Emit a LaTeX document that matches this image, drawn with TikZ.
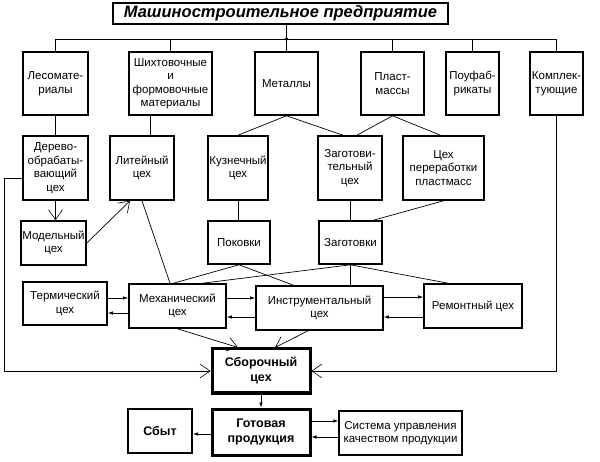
\documentclass[tikz,border=0pt]{standalone}
\usepackage{fontspec}
\setmainfont{Liberation Sans}
\usetikzlibrary{arrows.meta}
\begin{document}
\begin{tikzpicture}[x=1pt,y=-1pt,
  box/.style={draw, line width=1.6pt, align=center, inner sep=1pt,
    font=\fontsize{11.5}{13.5}\selectfont},
  heavybox/.style={box, line width=3pt, font=\bfseries\fontsize{12.5}{15}\selectfont},
  thinbox/.style={box, line width=1.2pt},
  conn/.style={line width=0.7pt},
  openarr/.style={conn, -{Straight Barb[length=10pt,width=14pt,line width=0.6pt]}},
  smallarr/.style={conn, -{Latex[length=5pt,width=3.5pt]}}]
\useasboundingbox (0,0) rectangle (600,462);
\fill[white] (0,0) rectangle (600,462);

% title
\node[box, line width=1.8pt, minimum width=335pt, minimum height=21pt,
  font=\bfseries\itshape\fontsize{16.5}{18}\selectfont] (title) at (280.5,13.5) {Машиностроительное предприятие};

% row 1
\node[box, minimum width=65pt, minimum height=63pt] (lesomat) at (55.5,83.5) {Лесомате-\\риалы};
\node[box, minimum width=83pt, minimum height=63pt] (shikht) at (170.5,83.5) {Шихтовочные\\и\\формовочные\\материалы};
\node[box, minimum width=63pt, minimum height=63pt] (metal) at (286.5,83.5) {Металлы};
\node[box, minimum width=63pt, minimum height=63pt] (plast) at (392.5,83.5) {Пласт-\\массы};
\node[box, minimum width=53pt, minimum height=63pt] (poluf) at (472.5,83.5) {Поуфаб-\\рикаты};
\node[box, minimum width=53pt, minimum height=63pt] (kompl) at (556.5,83.5) {Комплек-\\тующие};

% row 2
\node[box, minimum width=65pt, minimum height=64pt] (derevo) at (55.5,168) {Дерево-\\обрабаты-\\вающий\\цех};
\node[box, minimum width=64pt, minimum height=64pt] (lit) at (142,168) {Литейный\\цех};
\node[box, minimum width=60pt, minimum height=64pt] (kuzn) at (238,168) {Кузнечный\\цех};
\node[box, minimum width=64pt, minimum height=64pt] (zagc) at (350,168) {Заготови-\\тельный\\цех};
\node[box, minimum width=81pt, minimum height=64pt] (pererab) at (443.5,168) {Цех\\переработки\\пластмасс};

% row 3
\node[box, minimum width=65pt, minimum height=44pt] (model) at (53.5,243) {Модельный\\цех};
\node[box, minimum width=62pt, minimum height=43pt] (pokov) at (239,242.5) {Поковки};
\node[box, minimum width=63pt, minimum height=43pt] (zagot) at (350.5,242.5) {Заготовки};

% row 4
\node[box, minimum width=84pt, minimum height=43pt] (term) at (65,303.5) {Термический\\цех};
\node[box, minimum width=97pt, minimum height=44pt] (mech) at (177.5,306) {Механический\\цех};
\node[box, minimum width=127pt, minimum height=44pt] (instr) at (319.5,308) {Инструментальный\\цех};
\node[box, minimum width=98pt, minimum height=44pt] (remont) at (473,306) {Ремонтный цех};

% bottom
\node[heavybox, minimum width=98pt, minimum height=44pt] (sbor) at (261,371) {Сборочный\\цех};
\node[heavybox, minimum width=98pt, minimum height=46pt] (gotov) at (261,432) {Готовая\\продукция};
\node[box, line width=2pt, font=\bfseries\fontsize{12.5}{15}\selectfont, minimum width=64pt, minimum height=44pt] (sbyt) at (160,431) {Сбыт};
\node[thinbox, minimum width=123pt, minimum height=44pt] (sist) at (400.5,433) {Система управления\\качеством продукции};

% bus
\coordinate (bus) at (0,39);
\coordinate (lc) at (4,371);
\draw[conn] (title.south -| metal.north) -- (metal.north);
\fill (metal.north |- bus) circle (1.8pt);
\draw[conn] (lesomat.north) -- (lesomat.north |- bus) -- (kompl.north |- bus) -- (kompl.north);
\draw[conn] (shikht.north) -- (shikht.north |- bus);
\draw[conn] (plast.north) -- (plast.north |- bus);
\draw[conn] (poluf.north) -- (poluf.north |- bus);

% row1 -> row2
\draw[conn] (lesomat.south) -- (derevo.north);
\draw[conn] ([xshift=8pt]lit.north |- shikht.south) -- ([xshift=8pt]lit.north);
\draw[conn] (metal.south) -- (kuzn.north);
\draw[conn] (metal.south) -- ([xshift=-7pt]zagc.north);
\draw[conn] (plast.south) -- ([xshift=7pt]zagc.north);
\draw[conn] (plast.south) -- ([xshift=-3pt]pererab.north);

% row2 -> row3
\draw[openarr] (derevo.south) -- (derevo.south |- model.north);
\draw[openarr] (model.east) -- ([xshift=-12pt]lit.south);
\draw[conn] (lit.south) -- ([xshift=-7.5pt]mech.north);
\draw[conn] (kuzn.south) -- (kuzn.south |- pokov.north);
\draw[conn] (zagc.south) -- (zagc.south |- zagot.north);
\draw[conn] (pererab.south) -- ([xshift=23pt]zagot.north);

% row3 -> row4
\draw[conn] (pokov.south) -- ([xshift=-4pt]mech.north);
\draw[conn] (pokov.south) -- ([xshift=-26pt]instr.north);
\draw[conn] (zagot.south) -- ([xshift=25pt]mech.north);
\draw[conn] (zagot.south) -- (zagot.south |- instr.north);
\draw[conn] (zagot.south) -- ([xshift=-25pt]remont.north);

% row4 pairs
\draw[smallarr] ([yshift=5.5pt]term.east) -- ([yshift=5.5pt]term.east -| mech.west);
\draw[smallarr] ([yshift=-9.5pt]term.east -| mech.west) -- ([yshift=-9.5pt]term.east);
\draw[smallarr] ([yshift=8pt]mech.east) -- ([yshift=8pt]mech.east -| instr.west);
\draw[smallarr] ([yshift=-11pt]mech.east -| instr.west) -- ([yshift=-11pt]mech.east);
\draw[smallarr] ([yshift=11pt]instr.east) -- ([yshift=11pt]instr.east -| remont.west);
\draw[smallarr] ([yshift=-9pt]instr.east -| remont.west) -- ([yshift=-9pt]instr.east);

% into assembly
\draw[openarr] (mech.south) -- ([xshift=-23pt]sbor.north);
\draw[openarr] ([xshift=-11.5pt]instr.south) -- ([xshift=14pt]sbor.north);
\draw[conn] ([yshift=-10pt]derevo.west) -| (lc);
\draw[openarr] (lc) -- (sbor.west);
\draw[openarr] (kompl.south) -- (kompl.south |- sbor.east) -- (sbor.east);

% bottom
\draw[smallarr] (sbor.south) -- (gotov.north);
\draw[smallarr] ([yshift=-2pt]gotov.west) -- ([yshift=-2pt]gotov.west -| sbyt.east);
\draw[smallarr] ([yshift=11pt]gotov.east) -- ([yshift=11pt]gotov.east -| sist.west);
\draw[smallarr] ([yshift=-5pt]gotov.east -| sist.west) -- ([yshift=-5pt]gotov.east);
\end{tikzpicture}
\end{document}
